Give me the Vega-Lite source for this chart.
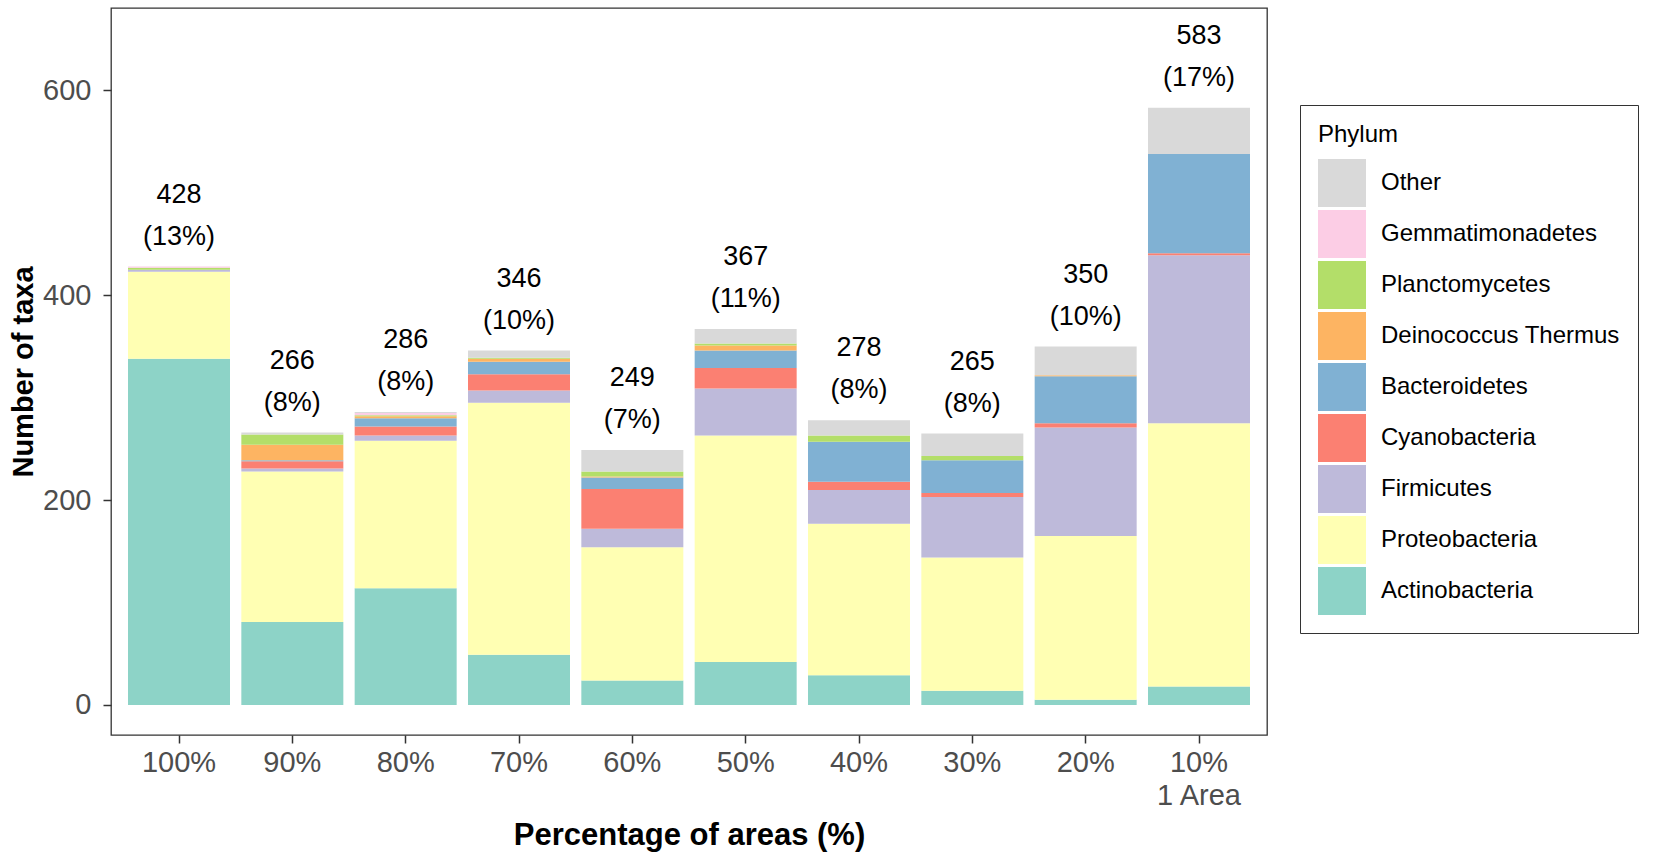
{
  "$schema": "https://vega.github.io/schema/vega-lite/v6.json",
  "description": "Stacked bars of taxa per phylum by percentage of areas, with totals and shares above each bar.",
  "width": 1156,
  "height": 727,
  "autosize": {"type": "none"},
  "padding": {"left": 111, "top": 8, "right": 387, "bottom": 123},
  "background": "white",
  "config": {
    "font": "Liberation Sans",
    "view": {"stroke": "#333333", "strokeWidth": 1.3},
    "axis": {"grid": false, "domain": false, "tickColor": "#333333", "tickWidth": 1.5, "tickSize": 8,
             "labelColor": "#4D4D4D", "labelFontSize": 29, "titleFontSize": 31, "titleFontWeight": "bold", "titleColor": "black"}
  },
  "datasets": {
    "taxa": [
      {"area": "100%", "phylum": "Actinobacteria", "n": 338},
      {"area": "100%", "phylum": "Proteobacteria", "n": 85},
      {"area": "100%", "phylum": "Firmicutes", "n": 2},
      {"area": "100%", "phylum": "Planctomycetes", "n": 2},
      {"area": "100%", "phylum": "Gemmatimonadetes", "n": 1},
      {"area": "90%", "phylum": "Actinobacteria", "n": 81},
      {"area": "90%", "phylum": "Proteobacteria", "n": 147},
      {"area": "90%", "phylum": "Firmicutes", "n": 3},
      {"area": "90%", "phylum": "Cyanobacteria", "n": 7},
      {"area": "90%", "phylum": "Bacteroidetes", "n": 1},
      {"area": "90%", "phylum": "Deinococcus Thermus", "n": 15},
      {"area": "90%", "phylum": "Planctomycetes", "n": 10},
      {"area": "90%", "phylum": "Other", "n": 2},
      {"area": "80%", "phylum": "Actinobacteria", "n": 114},
      {"area": "80%", "phylum": "Proteobacteria", "n": 144},
      {"area": "80%", "phylum": "Firmicutes", "n": 5},
      {"area": "80%", "phylum": "Cyanobacteria", "n": 9},
      {"area": "80%", "phylum": "Bacteroidetes", "n": 8},
      {"area": "80%", "phylum": "Deinococcus Thermus", "n": 2},
      {"area": "80%", "phylum": "Planctomycetes", "n": 1},
      {"area": "80%", "phylum": "Gemmatimonadetes", "n": 2},
      {"area": "80%", "phylum": "Other", "n": 1},
      {"area": "70%", "phylum": "Actinobacteria", "n": 49},
      {"area": "70%", "phylum": "Proteobacteria", "n": 246},
      {"area": "70%", "phylum": "Firmicutes", "n": 12},
      {"area": "70%", "phylum": "Cyanobacteria", "n": 16},
      {"area": "70%", "phylum": "Bacteroidetes", "n": 12},
      {"area": "70%", "phylum": "Deinococcus Thermus", "n": 3},
      {"area": "70%", "phylum": "Planctomycetes", "n": 1},
      {"area": "70%", "phylum": "Other", "n": 7},
      {"area": "60%", "phylum": "Actinobacteria", "n": 24},
      {"area": "60%", "phylum": "Proteobacteria", "n": 130},
      {"area": "60%", "phylum": "Firmicutes", "n": 18},
      {"area": "60%", "phylum": "Cyanobacteria", "n": 39},
      {"area": "60%", "phylum": "Bacteroidetes", "n": 11},
      {"area": "60%", "phylum": "Deinococcus Thermus", "n": 1},
      {"area": "60%", "phylum": "Planctomycetes", "n": 5},
      {"area": "60%", "phylum": "Other", "n": 21},
      {"area": "50%", "phylum": "Actinobacteria", "n": 42},
      {"area": "50%", "phylum": "Proteobacteria", "n": 221},
      {"area": "50%", "phylum": "Firmicutes", "n": 46},
      {"area": "50%", "phylum": "Cyanobacteria", "n": 20},
      {"area": "50%", "phylum": "Bacteroidetes", "n": 17},
      {"area": "50%", "phylum": "Deinococcus Thermus", "n": 5},
      {"area": "50%", "phylum": "Planctomycetes", "n": 2},
      {"area": "50%", "phylum": "Other", "n": 14},
      {"area": "40%", "phylum": "Actinobacteria", "n": 29},
      {"area": "40%", "phylum": "Proteobacteria", "n": 148},
      {"area": "40%", "phylum": "Firmicutes", "n": 33},
      {"area": "40%", "phylum": "Cyanobacteria", "n": 8},
      {"area": "40%", "phylum": "Bacteroidetes", "n": 39},
      {"area": "40%", "phylum": "Planctomycetes", "n": 6},
      {"area": "40%", "phylum": "Other", "n": 15},
      {"area": "30%", "phylum": "Actinobacteria", "n": 14},
      {"area": "30%", "phylum": "Proteobacteria", "n": 130},
      {"area": "30%", "phylum": "Firmicutes", "n": 59},
      {"area": "30%", "phylum": "Cyanobacteria", "n": 4},
      {"area": "30%", "phylum": "Bacteroidetes", "n": 32},
      {"area": "30%", "phylum": "Planctomycetes", "n": 4},
      {"area": "30%", "phylum": "Other", "n": 22},
      {"area": "20%", "phylum": "Actinobacteria", "n": 5},
      {"area": "20%", "phylum": "Proteobacteria", "n": 160},
      {"area": "20%", "phylum": "Firmicutes", "n": 106},
      {"area": "20%", "phylum": "Cyanobacteria", "n": 4},
      {"area": "20%", "phylum": "Bacteroidetes", "n": 46},
      {"area": "20%", "phylum": "Deinococcus Thermus", "n": 1},
      {"area": "20%", "phylum": "Other", "n": 28},
      {"area": "10%", "phylum": "Actinobacteria", "n": 18},
      {"area": "10%", "phylum": "Proteobacteria", "n": 257},
      {"area": "10%", "phylum": "Firmicutes", "n": 164},
      {"area": "10%", "phylum": "Cyanobacteria", "n": 2},
      {"area": "10%", "phylum": "Bacteroidetes", "n": 97},
      {"area": "10%", "phylum": "Other", "n": 45}
    ],
    "totals": [
      {"area": "100%", "total": 428, "pct": "(13%)"},
      {"area": "90%", "total": 266, "pct": "(8%)"},
      {"area": "80%", "total": 286, "pct": "(8%)"},
      {"area": "70%", "total": 346, "pct": "(10%)"},
      {"area": "60%", "total": 249, "pct": "(7%)"},
      {"area": "50%", "total": 367, "pct": "(11%)"},
      {"area": "40%", "total": 278, "pct": "(8%)"},
      {"area": "30%", "total": 265, "pct": "(8%)"},
      {"area": "20%", "total": 350, "pct": "(10%)"},
      {"area": "10%", "total": 583, "pct": "(17%)"}
    ]
  },
  "layer": [
    {
      "data": {"name": "taxa"},
      "transform": [
        {"calculate": "indexof(['Actinobacteria','Proteobacteria','Firmicutes','Cyanobacteria','Bacteroidetes','Deinococcus Thermus','Planctomycetes','Gemmatimonadetes','Other'], datum.phylum)", "as": "stackOrder"}
      ],
      "mark": {"type": "bar"},
      "encoding": {
        "x": {
          "field": "area", "type": "nominal",
          "sort": ["100%", "90%", "80%", "70%", "60%", "50%", "40%", "30%", "20%", "10%"],
          "scale": {"paddingInner": 0.1, "paddingOuter": 0.15},
          "axis": {
            "title": "Percentage of areas (%)", "labelAngle": 0, "labelPadding": 5,
            "labelLineHeight": 33, "titlePadding": 10,
            "labelExpr": "datum.value == '10%' ? ['10%', '1 Area'] : datum.value"
          }
        },
        "y": {
          "field": "n", "type": "quantitative", "stack": "zero",
          "scale": {"domain": [-29.3, 680.5], "nice": false, "zero": false},
          "axis": {"title": "Number of taxa", "titleFontSize": 29, "values": [0, 200, 400, 600], "labelPadding": 12, "titlePadding": 4}
        },
        "order": {"field": "stackOrder", "type": "quantitative"},
        "color": {
          "field": "phylum", "type": "nominal",
          "scale": {
            "domain": ["Other", "Gemmatimonadetes", "Planctomycetes", "Deinococcus Thermus", "Bacteroidetes", "Cyanobacteria", "Firmicutes", "Proteobacteria", "Actinobacteria"],
            "range": ["#D9D9D9", "#FCCDE5", "#B3DE69", "#FDB462", "#80B1D3", "#FB8072", "#BEBADA", "#FFFFB3", "#8DD3C7"]
          },
          "legend": {
            "title": "Phylum", "orient": "none", "legendX": 1189, "legendY": 97,
            "symbolType": "square", "symbolSize": 2304, "symbolStrokeWidth": 0,
            "labelFontSize": 24, "titleFontSize": 24, "titleFontWeight": "normal", "titleColor": "black",
            "labelColor": "black", "labelOffset": 15, "labelLimit": 400, "rowPadding": 3, "titlePadding": 12,
            "padding": 18, "strokeColor": "#333333"
          }
        }
      }
    },
    {
      "data": {"name": "totals"},
      "mark": {"type": "text", "fontSize": 27, "baseline": "middle", "dy": -72, "color": "black"},
      "encoding": {
        "x": {"field": "area", "type": "nominal", "sort": ["100%", "90%", "80%", "70%", "60%", "50%", "40%", "30%", "20%", "10%"]},
        "y": {"field": "total", "type": "quantitative"},
        "text": {"field": "total", "type": "quantitative"}
      }
    },
    {
      "data": {"name": "totals"},
      "mark": {"type": "text", "fontSize": 27, "baseline": "middle", "dy": -30, "color": "black"},
      "encoding": {
        "x": {"field": "area", "type": "nominal", "sort": ["100%", "90%", "80%", "70%", "60%", "50%", "40%", "30%", "20%", "10%"]},
        "y": {"field": "total", "type": "quantitative"},
        "text": {"field": "pct", "type": "nominal"}
      }
    }
  ]
}
